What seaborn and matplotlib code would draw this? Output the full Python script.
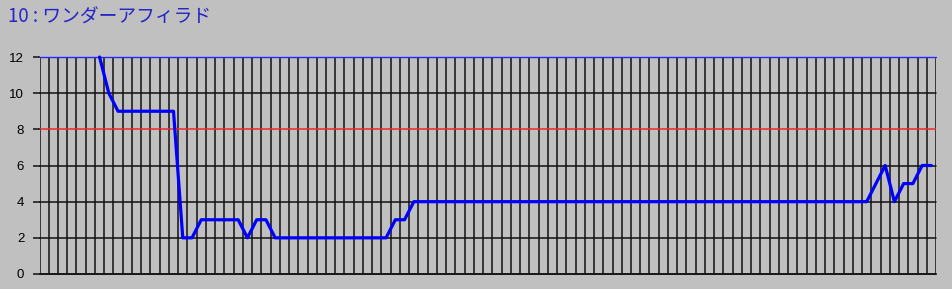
import numpy as np
import pandas as pd
import matplotlib
matplotlib.use("Agg")
import matplotlib.pyplot as plt
import seaborn as sns

# ---- data ----
title_text = "10 : ワンダーアフィラド"
n_points = 97
values = ([np.nan] * 6 + [12, 10] + [9] * 7 + [2, 2] + [3] * 5 + [2, 3, 3]
          + [2] * 13 + [3, 3] + [4] * 50 + [5, 6, 4, 5, 5, 6, 6])
values = values[:n_points]
y_ticks = [0, 2, 4, 6, 8, 10, 12]
ref_value = 8

df = pd.DataFrame({"x": np.arange(len(values)), "y": values})

sns.set_theme(style="white")
plt.rcParams['font.family'] = ['Liberation Sans', 'DejaVu Sans']

BG = "#c0c0c0"
fig = plt.figure(figsize=(9.52, 2.89), dpi=100, facecolor=BG)
ax = fig.add_axes([39.5 / 952, 1 - 274 / 289, (936 - 39.5) / 952, (274 - 57) / 289])
ax.set_facecolor(BG)

ax.set_xlim(-0.5, len(values) - 0.5)
ax.set_ylim(0, 12)

# vertical grid at category boundaries
for k in range(len(values) + 1):
    ax.axvline(k - 0.5, color="#111111", lw=1.1, zorder=1)
# horizontal grid
for yv in y_ticks:
    if yv == 12:
        ax.axhline(yv, color="#2828ff", lw=1.0, zorder=2, clip_on=False)
    elif yv == ref_value:
        ax.axhline(yv, color="#f02828", lw=1.1, zorder=2)
    else:
        ax.axhline(yv, color="#111111", lw=1.1, zorder=2, clip_on=False)

sns.lineplot(data=df, x="x", y="y", ax=ax, color="#0000ff", lw=2.3, zorder=5,
             clip_on=False)

for s in ["top", "right", "left"]:
    ax.spines[s].set_visible(False)
ax.spines["bottom"].set_color("#111111")
ax.spines["bottom"].set_linewidth(1.1)

ax.set_yticks(y_ticks)
ax.set_yticklabels([str(v) for v in y_ticks])
ax.tick_params(axis="y", length=5, width=1.1, color="#111111", pad=6,
               labelsize=9.5, labelcolor="#000000", left=True)
ax.set_xticks([])
ax.set_xlabel("")
ax.set_ylabel("")

fig.text(8 / 952, 1 - 17 / 289, title_text, color="#2424c8", fontsize=13.5,
         va="center", ha="left", family=["Noto Sans CJK JP", "DejaVu Sans"])

fig.savefig("out.png", dpi=100, facecolor=BG)
